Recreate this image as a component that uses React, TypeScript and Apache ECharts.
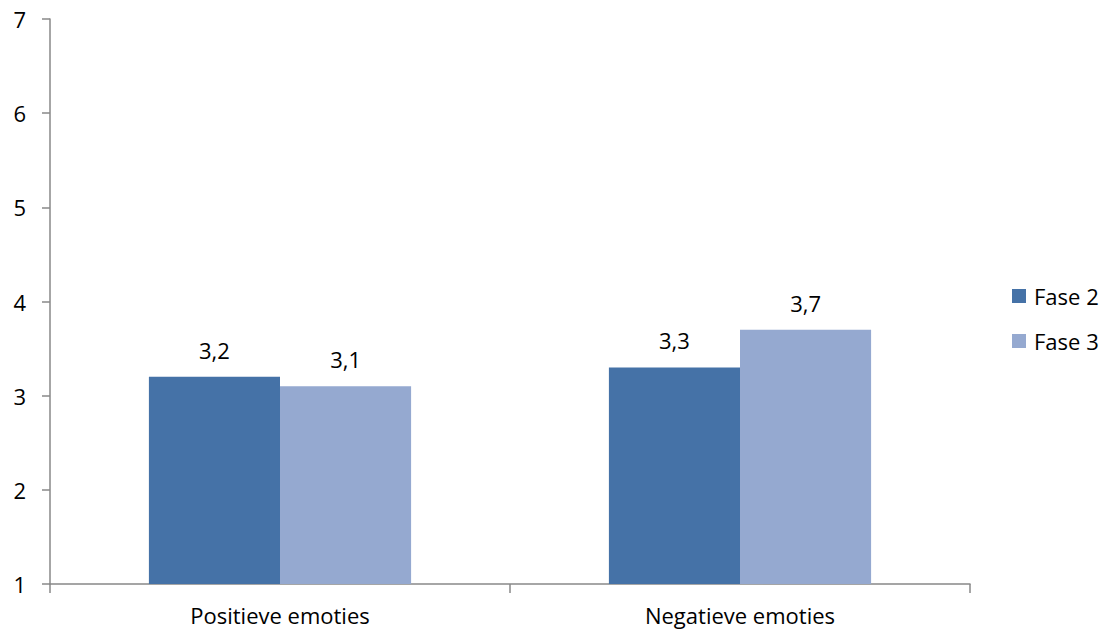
import React, { useEffect, useRef } from "react";
import * as echarts from "echarts";

const categories = ["Positieve emoties", "Negatieve emoties"];
const fase2 = [3.2, 3.3];
const fase3 = [3.1, 3.7];
const seriesNames = ["Fase 2", "Fase 3"];
const colors = ["#4572A7", "#95A9D0"];

const FONT = "'Open Sans', 'Noto Sans', sans-serif";

export default function App() {
  const ref = useRef<HTMLDivElement>(null);
  useEffect(() => {
    if (!ref.current) return;
    const chart = echarts.init(ref.current, null, { renderer: "svg" });
    const label = {
      show: true,
      position: "top",
      distance: 16,
      color: "#000",
      fontFamily: FONT,
      fontSize: 22,
      formatter: (p: any) => String(p.value).replace(".", ","),
    };
    chart.setOption({
      animation: false,
      textStyle: { fontFamily: FONT },
      grid: { left: 50, top: 19, right: 142, bottom: 47, containLabel: false },
      legend: {
        orient: "vertical",
        left: 1007,
        top: 280,
        itemWidth: 14,
        itemHeight: 14,
        itemGap: 23,
        icon: "rect",
        textStyle: { fontFamily: FONT, fontSize: 22, color: "#000", padding: [0, 0, 0, 3] },
        data: seriesNames,
      },
      xAxis: {
        type: "category",
        data: categories,
        axisLine: { lineStyle: { color: "#888", width: 1.5 } },
        axisTick: { show: true, length: 9, lineStyle: { color: "#888", width: 1.5 } },
        axisLabel: { color: "#000", fontFamily: FONT, fontSize: 22, margin: 20 },
      },
      yAxis: {
        type: "value",
        min: 1,
        max: 7,
        interval: 1,
        splitLine: { show: false },
        axisLine: { show: true, lineStyle: { color: "#888", width: 1.5 } },
        axisTick: { show: true, length: 8, lineStyle: { color: "#888", width: 1.5 } },
        axisLabel: { color: "#000", fontFamily: FONT, fontSize: 22, margin: 24 },
      },
      series: [
        {
          name: seriesNames[0],
          type: "bar",
          data: fase2,
          itemStyle: { color: colors[0] },
          barGap: "0%",
          barCategoryGap: "43%",
          label,
        },
        {
          name: seriesNames[1],
          type: "bar",
          data: fase3,
          itemStyle: { color: colors[1] },
          barGap: "0%",
          barCategoryGap: "43%",
          label,
        },
      ],
    });
    return () => chart.dispose();
  }, []);
  return (
    <div
      ref={ref}
      style={{ width: 1112, height: 631, position: "fixed", left: 0, top: 0, background: "#fff" }}
    />
  );
}
